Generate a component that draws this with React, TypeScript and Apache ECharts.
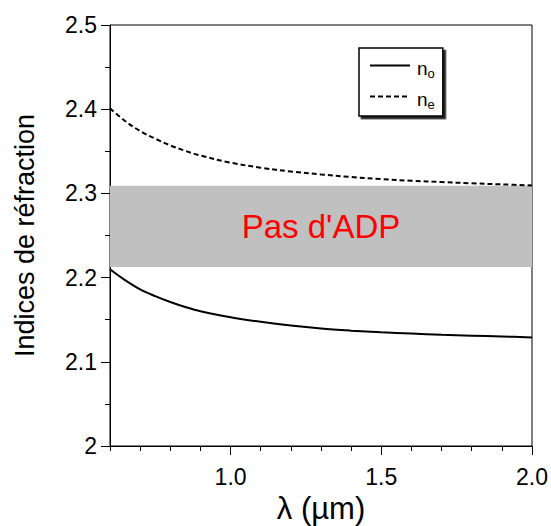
import React, { useEffect, useRef } from "react";
import * as echarts from "echarts";

const lambda = [0.6, 0.65, 0.7, 0.75, 0.8, 0.85, 0.9, 1.0, 1.1, 1.2, 1.3, 1.4, 1.5, 1.6, 1.7, 1.8, 1.9, 2.0];
const nO = [2.210, 2.197, 2.186, 2.178, 2.171, 2.165, 2.160, 2.153, 2.1475, 2.143, 2.1395, 2.137, 2.135, 2.1335, 2.132, 2.131, 2.130, 2.129];
const nE = [2.401, 2.386, 2.374, 2.365, 2.357, 2.3505, 2.345, 2.3365, 2.3305, 2.326, 2.3225, 2.3195, 2.317, 2.315, 2.3135, 2.312, 2.3107, 2.3095];
const bandRange = [2.2126, 2.309];
const bandLabel = "Pas d'ADP";
const xMajorTicks = [1.0, 1.5, 2.0];
const xMinorTicks = [0.6, 0.7, 0.8, 0.9, 1.1, 1.2, 1.3, 1.4, 1.6, 1.7, 1.8, 1.9];
const seriesNames = ["n_o", "n_e"];

const FONT = "Liberation Sans, Arial, sans-serif";

export default function App() {
  const ref = useRef<HTMLDivElement>(null);
  useEffect(() => {
    if (!ref.current) return;
    const chart = echarts.init(ref.current, null, { renderer: "svg" });
    const toPairs = (ys: number[]) => lambda.map((x, i) => [x, ys[i]]);
    chart.setOption({
      animation: false,
      backgroundColor: "#fff",
      textStyle: { fontFamily: FONT },
      grid: {
        left: 110,
        right: 19,
        top: 25,
        bottom: 80,
        outerBoundsMode: "none",
        containLabel: false,
        show: true,
        borderColor: "#000",
        borderWidth: 1,
        backgroundColor: "transparent",
      },
      xAxis: [
        {
          type: "value",
          min: 0.6,
          max: 2.0,
          position: "bottom",
          name: "λ (µm)",
          nameLocation: "middle",
          nameGap: 45,
          nameTextStyle: { fontSize: 31, color: "#000", fontFamily: FONT },
          axisLine: { show: true, onZero: false, lineStyle: { color: "#000", width: 1 } },
          axisTick: { show: true, inside: false, length: 9, customValues: xMajorTicks, lineStyle: { color: "#000" } },
          axisLabel: {
            show: true,
            customValues: xMajorTicks,
            margin: 19,
            fontSize: 23,
            color: "#000",
            fontFamily: FONT,
            formatter: (v: number) => v.toFixed(1),
          },
          splitLine: { show: false },
        },
        {
          type: "value",
          min: 0.6,
          max: 2.0,
          position: "bottom",
          axisLine: { show: false, onZero: false },
          axisTick: { show: true, inside: false, length: 5, customValues: xMinorTicks, lineStyle: { color: "#000" } },
          axisLabel: { show: false },
          splitLine: { show: false },
        },
      ],
      yAxis: {
        type: "value",
        min: 2,
        max: 2.5,
        interval: 0.1,
        name: "Indices de réfraction",
        nameLocation: "middle",
        nameGap: 72,
        nameTextStyle: { fontSize: 27, color: "#000", fontFamily: FONT },
        axisLine: { show: true, lineStyle: { color: "#000", width: 1 } },
        axisTick: { show: true, inside: false, length: 9, lineStyle: { color: "#000" } },
        minorTick: { show: true, splitNumber: 2, length: 5, lineStyle: { color: "#000" } },
        axisLabel: {
          margin: 13,
          fontSize: 23,
          color: "#000",
          fontFamily: FONT,
          formatter: (v: number) => (Math.abs(v - 2) < 1e-9 ? "2" : v.toFixed(1)),
        },
        splitLine: { show: false },
      },
      legend: {
        left: 359,
        top: 48,
        orient: "vertical",
        itemWidth: 40,
        itemHeight: 16,
        itemGap: 10,
        padding: [11, 8, 5, 10],
        borderColor: "#000",
        borderWidth: 1.5,
        backgroundColor: "#fff",
        shadowColor: "#222",
        shadowBlur: 0,
        shadowOffsetX: 2.5,
        shadowOffsetY: 2.5,
        itemStyle: { opacity: 0 },
        data: seriesNames,
        formatter: (name: string) => (name === "n_o" ? "{b|n}{s|o}" : "{b|n}{s|e}"),
        textStyle: {
          color: "#000",
          fontFamily: FONT,
          fontSize: 19,
          padding: [10, 0, 0, 2],
          rich: {
            b: { fontSize: 19, lineHeight: 19, padding: [0, 0, 2, 0], verticalAlign: "bottom", color: "#000", fontFamily: FONT },
            s: { fontSize: 13, lineHeight: 13, verticalAlign: "bottom", color: "#000", fontFamily: FONT },
          },
        },
      },
      series: [
        {
          name: "n_o",
          type: "line",
          data: toPairs(nO),
          smooth: 0.35,
          symbol: "none",
          showSymbol: false,
          lineStyle: { color: "#000", width: 2, type: "solid" },
          itemStyle: { color: "#000" },
          z: 3,
          markArea: {
            silent: true,
            itemStyle: { color: "#c0c0c0", opacity: 1 },
            label: {
              show: true,
              position: "inside",
              color: "#ff0000",
              fontSize: 33,
              fontFamily: FONT,
              formatter: bandLabel,
            },
            data: [[{ yAxis: bandRange[0] }, { yAxis: bandRange[1] }]],
          },
        },
        {
          name: "n_e",
          type: "line",
          data: toPairs(nE),
          smooth: 0.35,
          symbol: "none",
          showSymbol: false,
          lineStyle: { color: "#000", width: 2, type: [5, 3] },
          itemStyle: { color: "#000" },
          z: 3,
        },
      ],
    });
    return () => chart.dispose();
  }, []);
  return (
    <div
      ref={ref}
      style={{ position: "absolute", left: 0, top: 0, width: 551, height: 526, background: "#fff" }}
    />
  );
}
